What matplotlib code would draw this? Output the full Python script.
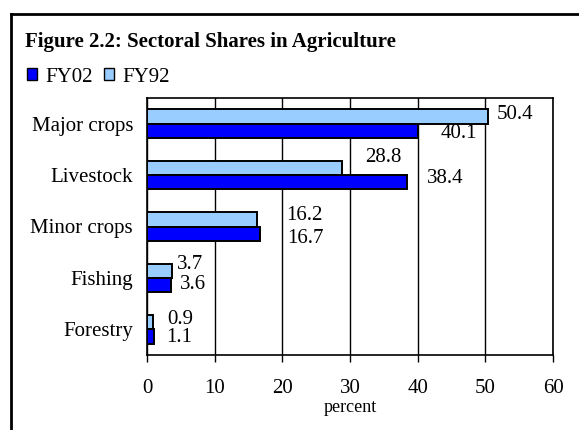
import matplotlib
matplotlib.use("Agg")
import matplotlib.pyplot as plt
from matplotlib.patches import Patch
from matplotlib.lines import Line2D
import numpy as np

plt.rcParams['font.family'] = ['Liberation Serif', 'DejaVu Serif']

categories = ["Major crops", "Livestock", "Minor crops", "Fishing", "Forestry"]
fy02 = [40.1, 38.4, 16.7, 3.6, 1.1]
fy92 = [50.4, 28.8, 16.2, 3.7, 0.9]
xticks = [0, 10, 20, 30, 40, 50, 60]

# label nudges (pixels) so labels sit roughly where the original put them
off02 = [(22, -3), (20, 4), (27, -5), (9, 1), (12, -1)]
off92 = [(9, 2), (23, 10), (30, 4), (5, 6), (14, 3)]

W, H = 579, 430
fig = plt.figure(figsize=(W / 100, H / 100), dpi=100)
ax = fig.add_axes([147 / W, 1 - 355 / H, (553 - 147) / W, (355 - 98) / H])

y = np.arange(len(categories))
bh = 0.28
ax.barh(y - bh / 2, fy92, height=bh, color="#99CCFF", edgecolor="black", linewidth=1.4, zorder=3)
ax.barh(y + bh / 2, fy02, height=bh, color="#0000FF", edgecolor="black", linewidth=1.4, zorder=3)

for i in range(len(categories)):
    ax.annotate(f"{fy92[i]:.1f}", (fy92[i], y[i] - bh / 2), xytext=off92[i],
                textcoords="offset pixels", ha="left", va="center", fontsize=15, zorder=6)
    ax.annotate(f"{fy02[i]:.1f}", (fy02[i], y[i] + bh / 2), xytext=off02[i],
                textcoords="offset pixels", ha="left", va="center", fontsize=15, zorder=6)

ax.set_xlim(0, 60)
ax.set_ylim(len(categories) - 0.5, -0.5)
ax.set_xticks(xticks)
ax.set_yticks(y)
ax.set_yticklabels(categories, fontsize=15)
ax.tick_params(axis="y", length=0, pad=10)
ax.tick_params(axis="x", length=5, width=1, labelsize=15, pad=12, direction="out")
ax.grid(axis="x", color="black", linewidth=1, zorder=0)
for s in ax.spines.values():
    s.set_linewidth(1.2)
ax.set_xlabel("percent", fontsize=13, labelpad=1)

fig.text(25 / W, 1 - 42 / H, "Figure 2.2: Sectoral Shares in Agriculture",
         fontsize=15, fontweight="bold", ha="left", va="center")

handles = [Patch(facecolor="#0000FF", edgecolor="black", label="FY02"),
           Patch(facecolor="#99CCFF", edgecolor="black", label="FY92")]
fig.legend(handles=handles, loc="center left", bbox_to_anchor=(27 / W, 1 - 77 / H),
           ncol=2, frameon=False, fontsize=15, handlelength=0.5, handleheight=0.5,
           handletextpad=0.4, columnspacing=0.5, borderpad=0, borderaxespad=0)

# outer frame
fig.add_artist(Line2D([11 / W, 1], [1 - 14 / H, 1 - 14 / H], color="black", linewidth=2,
                      transform=fig.transFigure))
fig.add_artist(Line2D([11 / W, 11 / W], [0, 1 - 14 / H], color="black", linewidth=2,
                      transform=fig.transFigure))

fig.savefig("out.png", dpi=100)
